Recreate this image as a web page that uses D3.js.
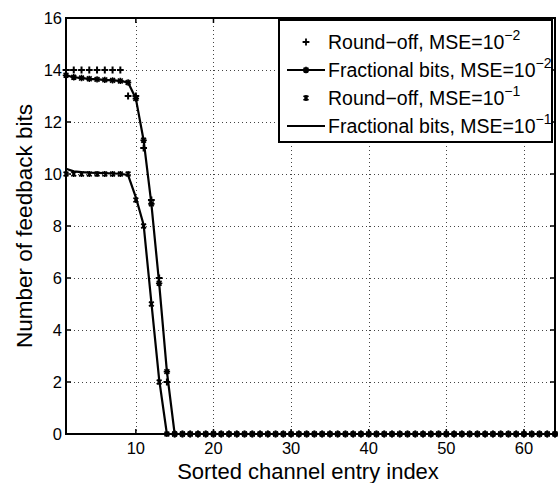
<!DOCTYPE html>
<html>
<head>
<meta charset="utf-8">
<script src="https://cdn.jsdelivr.net/npm/d3@7"></script>
<style>
  html, body { margin: 0; padding: 0; background: #fff; }
  svg { display: block; font-family: "Liberation Sans", Arial, Helvetica, sans-serif; }
</style>
</head>
<body>
<svg id="chart" width="558" height="483"></svg>
<script>
// Channel entry index (sorted), 1..64
const entryIndex = [
  1,2,3,4,5,6,7,8,9,10,11,12,13,14,15,16,17,18,19,20,21,22,23,24,25,26,27,28,29,30,31,32,
  33,34,35,36,37,38,39,40,41,42,43,44,45,46,47,48,49,50,51,52,53,54,55,56,57,58,59,60,61,62,63,64
];

// Feedback bits per entry
const roundOffMse2 = [
  14,14,14,14,14,14,14,14,13,13,11,9,6,2,0,0,0,0,0,0,0,0,0,0,0,0,0,0,0,0,0,0,
  0,0,0,0,0,0,0,0,0,0,0,0,0,0,0,0,0,0,0,0,0,0,0,0,0,0,0,0,0,0,0,0
];
const fractionalMse2 = [
  13.8,13.72,13.69,13.66,13.64,13.62,13.6,13.58,13.52,12.9,11.3,8.85,5.8,2.4,0,0,0,0,0,0,0,0,0,0,0,0,0,0,0,0,0,0,
  0,0,0,0,0,0,0,0,0,0,0,0,0,0,0,0,0,0,0,0,0,0,0,0,0,0,0,0,0,0,0,0
];
const roundOffMse1 = [
  10,10,10,10,10,10,10,10,10,9,8,5,2,0,0,0,0,0,0,0,0,0,0,0,0,0,0,0,0,0,0,0,
  0,0,0,0,0,0,0,0,0,0,0,0,0,0,0,0,0,0,0,0,0,0,0,0,0,0,0,0,0,0,0,0
];
const fractionalMse1 = [
  10.2,10.1,10.07,10.05,10.04,10.03,10.02,10.01,9.96,9.1,8.05,5.05,2.1,0,0,0,0,0,0,0,0,0,0,0,0,0,0,0,0,0,0,0,
  0,0,0,0,0,0,0,0,0,0,0,0,0,0,0,0,0,0,0,0,0,0,0,0,0,0,0,0,0,0,0,0
];

const xTicks = [10, 20, 30, 40, 50, 60];
const yTicks = [0, 2, 4, 6, 8, 10, 12, 14, 16];

const legendLabels = [
  { text: "Round\u2212off, MSE=10", exp: "\u22122" },
  { text: "Fractional bits, MSE=10", exp: "\u22122" },
  { text: "Round\u2212off, MSE=10", exp: "\u22121" },
  { text: "Fractional bits, MSE=10", exp: "\u22121" }
];

const svg = d3.select("#chart");
const W = 558, H = 483;
const plot = { left: 66, right: 555, top: 18, bottom: 434 };

const x = d3.scaleLinear().domain([1, 64]).range([plot.left, plot.right]);
const y = d3.scaleLinear().domain([0, 16]).range([plot.bottom, plot.top]);

svg.append("rect").attr("width", W).attr("height", H).attr("fill", "#fff");

// dotted grid
const grid = svg.append("g").attr("stroke", "#444").attr("stroke-width", 1)
  .attr("stroke-dasharray", "1,3");
grid.selectAll(".gx").data(xTicks).join("line")
  .attr("x1", d => Math.round(x(d)) + 0.5).attr("x2", d => Math.round(x(d)) + 0.5)
  .attr("y1", plot.top).attr("y2", plot.bottom);
grid.selectAll(".gy").data(yTicks.filter(d => d > 0 && d < 16)).join("line")
  .attr("y1", d => Math.round(y(d)) + 0.5).attr("y2", d => Math.round(y(d)) + 0.5)
  .attr("x1", plot.left).attr("x2", plot.right);

// marker shapes
function plusPath(s) { return `M${-s},0H${s}M0,${-s}V${s}`; }
function starPath(s) {
  const d = s * 0.75;
  return `M${-s},0H${s}M0,${-s}V${s}M${-d},${-d}L${d},${d}M${-d},${d}L${d},${-d}`;
}
function crossStarPath(s) {
  const d = s * 0.8;
  return `M${-d},${-d}L${d},${d}M${-d},${d}L${d},${-d}M0,${-s}V${s}`;
}

const line = d3.line().x((d, i) => x(entryIndex[i])).y(d => y(d));
const dataLayer = svg.append("g");

// lines
dataLayer.append("path").datum(fractionalMse1).attr("d", line)
  .attr("fill", "none").attr("stroke", "#000").attr("stroke-width", 2.2).attr("stroke-linejoin", "round");
dataLayer.append("path").datum(fractionalMse2).attr("d", line)
  .attr("fill", "none").attr("stroke", "#000").attr("stroke-width", 2.2).attr("stroke-linejoin", "round");

// markers
function drawMarkers(values, pathFn, size, sw) {
  dataLayer.append("g").selectAll("path").data(values).join("path")
    .attr("transform", (d, i) => `translate(${x(entryIndex[i])},${y(d)})`)
    .attr("d", pathFn(size))
    .attr("fill", "none").attr("stroke", "#000").attr("stroke-width", sw);
}
drawMarkers(fractionalMse2, starPath, 3.2, 1.6);
drawMarkers(roundOffMse1, crossStarPath, 3, 1.6);
drawMarkers(roundOffMse2, plusPath, 3.4, 2);

// axes box
svg.append("rect")
  .attr("x", plot.left).attr("y", plot.top)
  .attr("width", plot.right - plot.left).attr("height", plot.bottom - plot.top)
  .attr("fill", "none").attr("stroke", "#000").attr("stroke-width", 2);

// inward ticks (bottom/top, left/right)
const tickLen = 5;
const ticks = svg.append("g").attr("stroke", "#000").attr("stroke-width", 1.5);
xTicks.forEach(t => {
  ticks.append("line").attr("x1", x(t)).attr("x2", x(t)).attr("y1", plot.bottom).attr("y2", plot.bottom - tickLen);
  ticks.append("line").attr("x1", x(t)).attr("x2", x(t)).attr("y1", plot.top).attr("y2", plot.top + tickLen);
});
yTicks.forEach(t => {
  ticks.append("line").attr("y1", y(t)).attr("y2", y(t)).attr("x1", plot.left).attr("x2", plot.left + tickLen);
  ticks.append("line").attr("y1", y(t)).attr("y2", y(t)).attr("x1", plot.right).attr("x2", plot.right - tickLen);
});

// tick labels
svg.append("g").selectAll("text").data(xTicks).join("text")
  .attr("x", d => x(d)).attr("y", 454)
  .attr("text-anchor", "middle").attr("font-size", 16.5).attr("fill", "#000")
  .text(d => d);
svg.append("g").selectAll("text").data(yTicks).join("text")
  .attr("x", 62).attr("y", d => y(d) + 6)
  .attr("text-anchor", "end").attr("font-size", 16.5).attr("fill", "#000")
  .text(d => d);

// axis titles
svg.append("text").attr("x", 308).attr("y", 479)
  .attr("text-anchor", "middle").attr("font-size", 22).attr("fill", "#000")
  .text("Sorted channel entry index");
svg.append("text")
  .attr("transform", "translate(32,226) rotate(-90)")
  .attr("text-anchor", "middle").attr("font-size", 22.5).attr("fill", "#000")
  .text("Number of feedback bits");

// legend
const lg = svg.append("g");
lg.append("rect").attr("x", 279).attr("y", 20).attr("width", 273).attr("height", 122)
  .attr("fill", "#fff").attr("stroke", "#000").attr("stroke-width", 2);
const rowY = [42, 70, 98, 126];
const sampleX1 = 287, sampleX2 = 325, sampleMid = 306;
legendLabels.forEach((lab, i) => {
  const cy = rowY[i];
  if (i === 1 || i === 3) {
    lg.append("line").attr("x1", sampleX1).attr("x2", sampleX2).attr("y1", cy).attr("y2", cy)
      .attr("stroke", "#000").attr("stroke-width", 2.2);
  }
  const shape = i === 0 ? plusPath(3.4) : i === 1 ? starPath(3.2) : i === 2 ? crossStarPath(3) : null;
  if (shape) {
    lg.append("path").attr("transform", `translate(${sampleMid},${cy})`).attr("d", shape)
      .attr("fill", "none").attr("stroke", "#000").attr("stroke-width", 1.8);
  }
  const t = lg.append("text").attr("x", 328).attr("y", cy + 7).attr("font-size", 19.5).attr("fill", "#000");
  t.append("tspan").text(lab.text);
  t.append("tspan").attr("dy", -9).attr("font-size", 14).text(lab.exp);
});
</script>
</body>
</html>
